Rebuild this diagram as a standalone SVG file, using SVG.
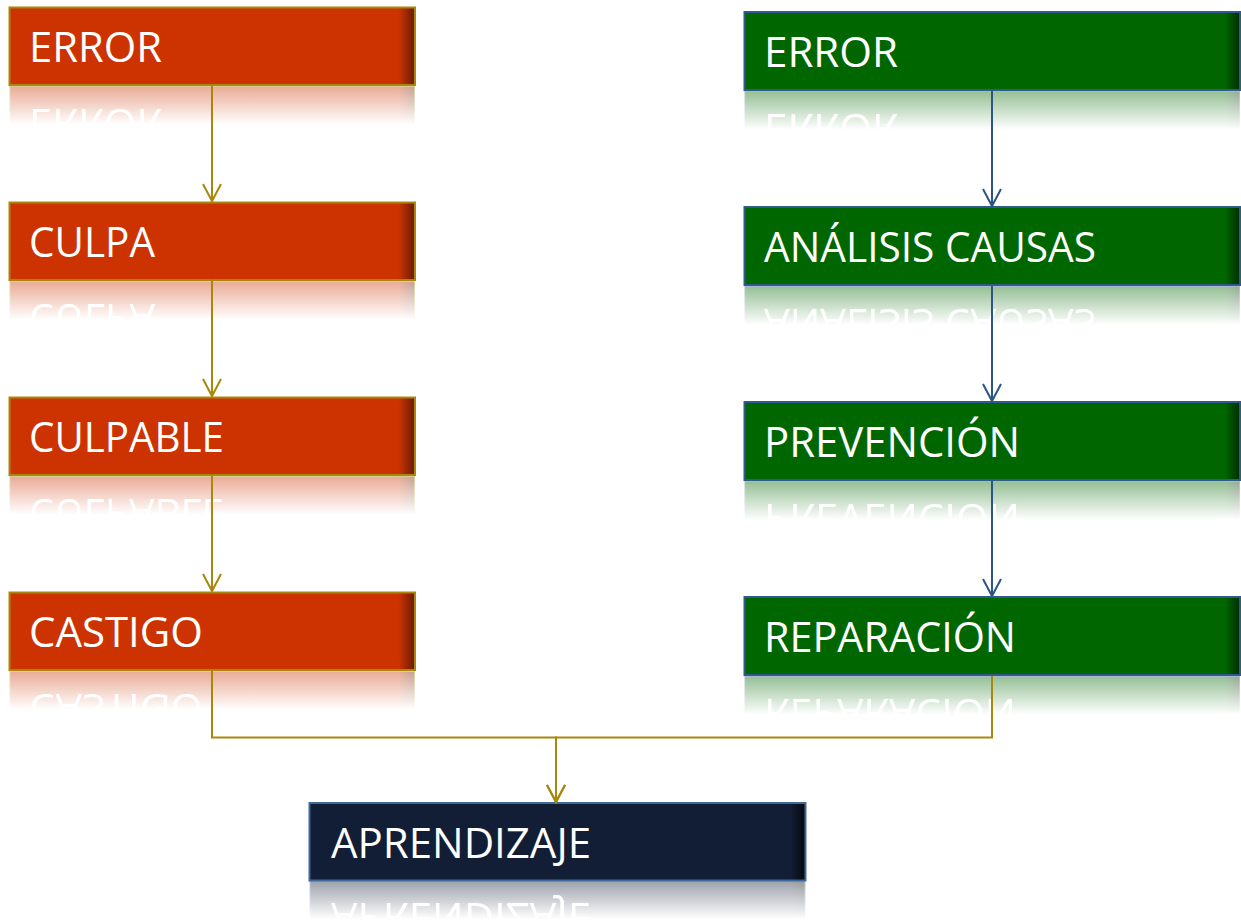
<svg xmlns="http://www.w3.org/2000/svg" xmlns:xlink="http://www.w3.org/1999/xlink" width="1241" height="923" viewBox="0 0 1241 923">
<defs>
<style>
.lbl{font-family:"Open Sans","Noto Sans","Liberation Sans",sans-serif;font-size:42px;fill:#ffffff;}
.red{fill:url(#gRed);stroke:#A8870A;stroke-width:2;}
.green{fill:url(#gGreen);stroke:#2F5A8A;stroke-width:2;}
.navy{fill:url(#gNavy);stroke:#3D6A99;stroke-width:2;}
.cg{fill:none;stroke:#A8870A;stroke-width:2;}
.cb{fill:none;stroke:#2B5487;stroke-width:2;}
</style>
<linearGradient id="gRed" x1="0" y1="0" x2="1" y2="0">
<stop offset="0" stop-color="#CC3300"/><stop offset="0.96" stop-color="#CC3300"/><stop offset="1" stop-color="#6B1A00"/>
</linearGradient>
<linearGradient id="gGreen" x1="0" y1="0" x2="1" y2="0">
<stop offset="0" stop-color="#006600"/><stop offset="0.97" stop-color="#006600"/><stop offset="1" stop-color="#002E00"/>
</linearGradient>
<linearGradient id="gNavy" x1="0" y1="0" x2="1" y2="0">
<stop offset="0" stop-color="#121E35"/><stop offset="0.97" stop-color="#121E35"/><stop offset="1" stop-color="#05090F"/>
</linearGradient>
<linearGradient id="fadeG" x1="0" y1="0" x2="0" y2="1">
<stop offset="0" stop-color="#fff" stop-opacity="0.42"/><stop offset="0.5" stop-color="#fff" stop-opacity="0"/>
</linearGradient>
<mask id="fade" maskContentUnits="objectBoundingBox">
<rect x="0" y="0" width="1" height="1" fill="url(#fadeG)"/>
</mask>
<marker id="aG" markerUnits="userSpaceOnUse" viewBox="-20 -12 24 24" refX="0" refY="0" markerWidth="24" markerHeight="24" orient="auto">
<path d="M-17,-9 L0,0 L-17,9" fill="none" stroke="#A8870A" stroke-width="2"/>
</marker>
<marker id="aB" markerUnits="userSpaceOnUse" viewBox="-20 -12 24 24" refX="0" refY="0" markerWidth="24" markerHeight="24" orient="auto">
<path d="M-17,-9 L0,0 L-17,9" fill="none" stroke="#2B5487" stroke-width="2"/>
</marker>
</defs>
<rect width="1241" height="923" fill="#ffffff"/>

<g id="L1">
<g id="L1f"><rect class="red" x="9.5" y="7.5" width="405.5" height="77.5"/><text class="lbl" x="29" y="62" textLength="133" lengthAdjust="spacingAndGlyphs">ERROR</text></g>
<g mask="url(#fade)"><use xlink:href="#L1f" href="#L1f" transform="matrix(1,0,0,-1,0,171)"/></g>
</g>
<g id="L2">
<g id="L2f"><rect class="red" x="9.5" y="202.5" width="405.5" height="77.5"/><text class="lbl" x="29" y="257" textLength="126" lengthAdjust="spacingAndGlyphs">CULPA</text></g>
<g mask="url(#fade)"><use xlink:href="#L2f" href="#L2f" transform="matrix(1,0,0,-1,0,561)"/></g>
</g>
<g id="L3">
<g id="L3f"><rect class="red" x="9.5" y="397.5" width="405.5" height="77.5"/><text class="lbl" x="29" y="452" textLength="195" lengthAdjust="spacingAndGlyphs">CULPABLE</text></g>
<g mask="url(#fade)"><use xlink:href="#L3f" href="#L3f" transform="matrix(1,0,0,-1,0,951)"/></g>
</g>
<g id="L4">
<g id="L4f"><rect class="red" x="9.5" y="592.5" width="405.5" height="77.5"/><text class="lbl" x="29" y="647" textLength="174" lengthAdjust="spacingAndGlyphs">CASTIGO</text></g>
<g mask="url(#fade)"><use xlink:href="#L4f" href="#L4f" transform="matrix(1,0,0,-1,0,1341)"/></g>
</g>

<g id="R1">
<g id="R1f"><rect class="green" x="744.5" y="12" width="495.5" height="78"/><text class="lbl" x="764" y="67" textLength="134" lengthAdjust="spacingAndGlyphs">ERROR</text></g>
<g mask="url(#fade)"><use xlink:href="#R1f" href="#R1f" transform="matrix(1,0,0,-1,0,181)"/></g>
</g>
<g id="R2">
<g id="R2f"><rect class="green" x="744.5" y="207" width="495.5" height="78"/><text class="lbl" x="764" y="262" textLength="332" lengthAdjust="spacingAndGlyphs">ANÁLISIS CAUSAS</text></g>
<g mask="url(#fade)"><use xlink:href="#R2f" href="#R2f" transform="matrix(1,0,0,-1,0,571)"/></g>
</g>
<g id="R3">
<g id="R3f"><rect class="green" x="744.5" y="402" width="495.5" height="78"/><text class="lbl" x="764" y="457" textLength="256" lengthAdjust="spacingAndGlyphs">PREVENCIÓN</text></g>
<g mask="url(#fade)"><use xlink:href="#R3f" href="#R3f" transform="matrix(1,0,0,-1,0,961)"/></g>
</g>
<g id="R4">
<g id="R4f"><rect class="green" x="744.5" y="597" width="495.5" height="78"/><text class="lbl" x="764" y="652" textLength="252" lengthAdjust="spacingAndGlyphs">REPARACIÓN</text></g>
<g mask="url(#fade)"><use xlink:href="#R4f" href="#R4f" transform="matrix(1,0,0,-1,0,1351)"/></g>
</g>

<g id="B1">
<g id="B1f"><rect class="navy" x="309.5" y="803" width="496" height="77.5"/><text class="lbl" x="331" y="858" textLength="260" lengthAdjust="spacingAndGlyphs">APRENDIZAJE</text></g>
<g mask="url(#fade)"><use xlink:href="#B1f" href="#B1f" transform="matrix(1,0,0,-1,0,1761)"/></g>
</g>

<g id="connectors">
<path class="cg" d="M212,86 V201" marker-end="url(#aG)"/>
<path class="cg" d="M212,281 V396" marker-end="url(#aG)"/>
<path class="cg" d="M212,476 V591" marker-end="url(#aG)"/>
<path class="cb" d="M992,91 V206" marker-end="url(#aB)"/>
<path class="cb" d="M992,286 V401" marker-end="url(#aB)"/>
<path class="cb" d="M992,481 V596" marker-end="url(#aB)"/>
<path class="cg" d="M212,671 V737.5 H556 V802" marker-end="url(#aG)"/>
<path class="cg" d="M992,676 V737.5 H556 V802" marker-end="url(#aG)"/>
</g>
</svg>
